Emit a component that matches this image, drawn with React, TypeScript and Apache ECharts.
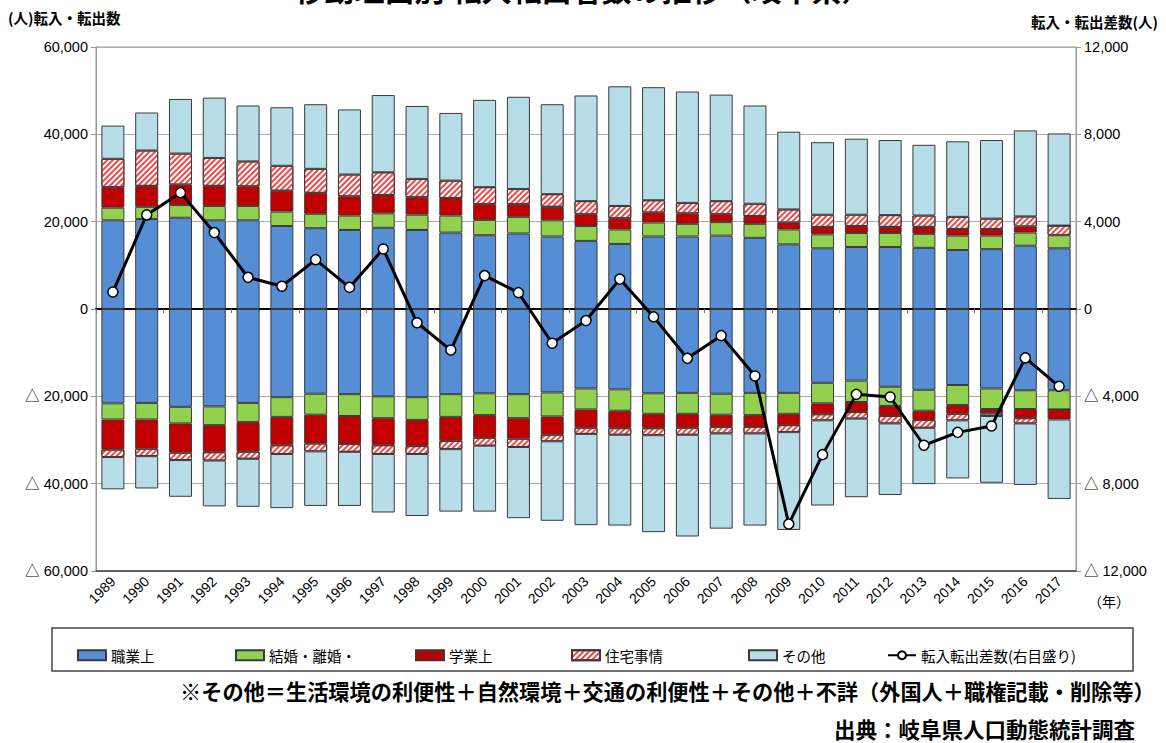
import React, { useEffect, useRef } from 'react';
import * as echarts from 'echarts';

const years = [
  '1989', '1990', '1991', '1992', '1993', '1994', '1995', '1996', '1997', '1998',
  '1999', '2000', '2001', '2002', '2003', '2004', '2005', '2006', '2007', '2008',
  '2009', '2010', '2011', '2012', '2013', '2014', '2015', '2016', '2017',
];

// 転入 (positive side)
const inShokugyo = [20300, 20600, 20900, 20300, 20300, 19000, 18500, 18100, 18600, 18100, 17500, 16900, 17300, 16600, 15600, 14900, 16600, 16600, 16800, 16300, 14800, 13900, 14200, 14200, 14000, 13500, 13700, 14500, 13900];
const inKekkon = [2900, 2800, 2900, 3300, 3300, 3300, 3300, 3300, 3300, 3500, 3900, 3500, 3800, 3700, 3400, 3300, 3200, 2900, 3100, 3200, 3400, 3200, 3200, 3200, 3200, 3300, 3100, 3000, 3000];
const inGakugyo = [4700, 4800, 4700, 4600, 4500, 4800, 4800, 4400, 4200, 4000, 4000, 3600, 2900, 3100, 2700, 2600, 2300, 2400, 1800, 1800, 1600, 1700, 1600, 1400, 1600, 1500, 1500, 1400, 0];
const inJutaku = [6500, 8100, 7100, 6400, 5700, 5700, 5500, 5000, 5200, 4200, 4000, 3900, 3500, 2900, 3000, 2800, 2800, 2400, 3000, 2800, 3000, 2800, 2600, 2700, 2600, 2800, 2400, 2300, 2200];
const inSonota = [7600, 8700, 12500, 13800, 12800, 13400, 14800, 14900, 17700, 16700, 15500, 20000, 21100, 20600, 24200, 27400, 25900, 25500, 24400, 22500, 17800, 16600, 17400, 17200, 16200, 17300, 18000, 19700, 21100];

// 転出 (negative side, stored as positive counts)
const outShokugyo = [21600, 21500, 22400, 22300, 21500, 20200, 19400, 19500, 20000, 20200, 19500, 19300, 19500, 19100, 18200, 18400, 19300, 19200, 19400, 19200, 19200, 16900, 16400, 17800, 18500, 17400, 18200, 18600, 18600];
const outKekkon = [3700, 3800, 3800, 4300, 4400, 4500, 4800, 5000, 5000, 5200, 5200, 5000, 5500, 5500, 4800, 4900, 4700, 4800, 4800, 5100, 4800, 4700, 4900, 4400, 4800, 4600, 4700, 4300, 4400];
const outGakugyo = [6900, 6700, 6700, 6200, 6800, 6500, 6600, 6400, 6200, 6000, 5500, 5200, 4700, 4200, 4200, 4000, 3300, 3200, 2800, 2700, 2600, 2500, 2300, 2300, 2100, 2000, 1000, 2100, 2300];
const outJutaku = [1700, 1700, 1700, 1900, 1600, 2000, 1800, 1800, 2000, 1800, 1900, 1800, 1900, 1500, 1400, 1500, 1600, 1600, 1500, 1500, 1600, 1400, 1500, 1700, 1800, 1500, 600, 1200, 0];
const outSonota = [7400, 7400, 8400, 10500, 11000, 12400, 12500, 12400, 13400, 14200, 14300, 15100, 16300, 18200, 20900, 20800, 22200, 23300, 21800, 21100, 22400, 19500, 18000, 16400, 12900, 13300, 15300, 14100, 18200];

// 転入転出差数 (right axis)
const netMigration = [780, 4310, 5330, 3500, 1450, 1040, 2260, 990, 2750, -630, -1880, 1530, 750, -1570, -530, 1370, -360, -2260, -1220, -3070, -9850, -6670, -3910, -4030, -6240, -5650, -5360, -2240, -3540];

const reasonNames = ['職業上', '結婚・離婚・', '学業上', '住宅事情', 'その他'];
const lineName = '転入転出差数(右目盛り)';

const FONT = "'Liberation Sans', 'Noto Sans CJK JP', sans-serif";
const JFONT = "'Noto Sans CJK JP', sans-serif";

const fmt = (v: number) => {
  const s = Math.abs(v).toLocaleString('en-US');
  return v < 0 ? '△ ' + s : s;
};

export default function App() {
  const ref = useRef<HTMLDivElement>(null);

  useEffect(() => {
    document.body.style.margin = '0';
    const chart = echarts.init(ref.current!, null, { renderer: 'svg' });

    const styles: any[] = [
      { color: '#558ED5' },
      { color: '#92D050' },
      { color: '#C00000' },
      {
        color: '#ffffff',
        decal: {
          symbol: 'rect',
          symbolSize: 1,
          dashArrayX: [[1, 0]],
          dashArrayY: [1.5, 1.8],
          rotation: -Math.PI / 4,
          color: '#F04848',
        },
      },
      { color: '#B7DDE8' },
    ];
    const inData = [inShokugyo, inKekkon, inGakugyo, inJutaku, inSonota];
    const outData = [outShokugyo, outKekkon, outGakugyo, outJutaku, outSonota];

    const series: any[] = [];
    reasonNames.forEach((name, i) => {
      const itemStyle = { ...styles[i], borderColor: '#3a3a3a', borderWidth: 1 };
      series.push({
        type: 'bar', name, stack: 'all', data: inData[i], barWidth: 23, itemStyle,
      });
      series.push({
        type: 'bar', name, stack: 'all', data: outData[i].map((v) => -v), barWidth: 23, itemStyle,
      });
    });
    series.push({
      type: 'line',
      name: lineName,
      yAxisIndex: 1,
      data: netMigration,
      symbol: 'circle',
      symbolSize: 10,
      lineStyle: { color: '#000', width: 3 },
      itemStyle: { color: '#fff', borderColor: '#000', borderWidth: 1.5 },
      z: 10,
    });

    const legendLeft = [72, 230, 410, 566, 743, 882];
    const legend: any[] = [...reasonNames, lineName].map((name, i) => ({
      data: [name],
      left: legendLeft[i],
      top: 643,
      icon: i < 5 ? 'rect' : undefined,
      itemWidth: 28,
      itemHeight: 10,
      textStyle: { fontSize: 14.5, color: '#000', fontFamily: JFONT },
      selectedMode: false,
    }));

    const option: any = {
      animation: false,
      backgroundColor: '#fff',
      grid: { left: 96, right: 90, top: 47, bottom: 172, show: true, borderColor: '#999', borderWidth: 1 },
      legend,
      xAxis: [
        {
          type: 'category', data: years, position: 'bottom',
          axisLine: { onZero: false, lineStyle: { color: '#404040', width: 1.5 } },
          axisTick: { show: false },
          axisLabel: { rotate: 45, interval: 0, fontSize: 14, color: '#000', fontFamily: FONT, margin: 8 },
        },
        {
          type: 'category', data: years, position: 'top',
          axisLine: { onZero: true, lineStyle: { color: '#000', width: 2 } },
          axisTick: { show: true, inside: true, length: 4, lineStyle: { color: '#777' } },
          axisLabel: { show: false },
        },
      ],
      yAxis: [
        {
          type: 'value', min: -60000, max: 60000, interval: 20000, position: 'left',
          axisLine: { show: true, lineStyle: { color: '#999' } },
          axisTick: { show: true, length: 5, lineStyle: { color: '#999' } },
          splitLine: { show: true, lineStyle: { color: '#aaa' } },
          axisLabel: { formatter: fmt, fontSize: 14.5, color: '#000', fontFamily: FONT, margin: 8 },
        },
        {
          type: 'value', min: -12000, max: 12000, interval: 4000, position: 'right',
          axisLine: { show: true, lineStyle: { color: '#999' } },
          axisTick: { show: true, length: 5, lineStyle: { color: '#999' } },
          splitLine: { show: false },
          axisLabel: { formatter: fmt, fontSize: 14.5, color: '#000', fontFamily: FONT, margin: 8 },
        },
      ],
      graphic: [
        {
          type: 'text', left: 'center', top: -27,
          style: { text: '移動理由別 転入転出者数の推移（岐阜県）', fontSize: 30, fontWeight: 'bold', fontFamily: JFONT, fill: '#000' },
        },
        {
          type: 'text', left: 8, top: 10,
          style: { text: '(人)転入・転出数', fontSize: 14.5, fontWeight: 'bold', fontFamily: JFONT, fill: '#000' },
        },
        {
          type: 'text', right: 8, top: 14,
          style: { text: '転入・転出差数(人)', fontSize: 14.5, fontWeight: 'bold', fontFamily: JFONT, fill: '#000' },
        },
        {
          type: 'text', left: 1088, top: 594,
          style: { text: '（年）', fontSize: 14, fontFamily: JFONT, fill: '#000' },
        },
        {
          type: 'rect', shape: { x: 52, y: 628, width: 1081, height: 43 },
          style: { fill: 'none', stroke: '#444', lineWidth: 1.5 },
        },
        {
          type: 'text', left: 180, top: 680,
          style: { text: '※その他＝生活環境の利便性＋自然環境＋交通の利便性＋その他＋不詳（外国人＋職権記載・削除等）', fontSize: 21.2, fontWeight: 'bold', fontFamily: JFONT, fill: '#000' },
        },
        {
          type: 'text', right: 31, top: 718,
          style: { text: '出典：岐阜県人口動態統計調査', fontSize: 21.5, fontWeight: 'bold', fontFamily: JFONT, fill: '#000' },
        },
      ],
      series,
    };

    chart.setOption(option);
    return () => chart.dispose();
  }, []);

  return <div ref={ref} style={{ width: 1166, height: 743 }} />;
}
